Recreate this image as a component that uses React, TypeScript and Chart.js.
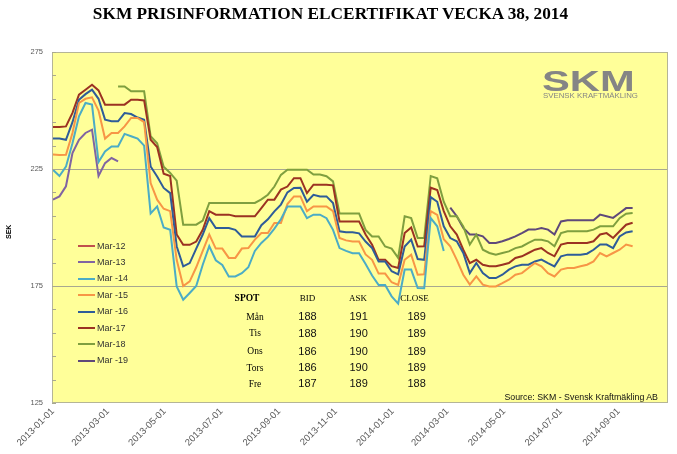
import React, { useEffect, useRef } from 'react';
import { Chart, registerables } from 'chart.js';

Chart.register(...registerables);

// ---------- DATA ----------
const TITLE = 'SKM PRISINFORMATION ELCERTIFIKAT VECKA 38, 2014';
const FIRST_DATE = '2013-01-01';
const WEEK_STEP = 7; // prices sampled weekly (days between samples)

const X_TICKS = ['2013-01-01', '2013-03-01', '2013-05-01', '2013-07-01', '2013-09-01', '2013-11-01', '2014-01-01', '2014-03-01', '2014-05-01', '2014-07-01', '2014-09-01'];
const Y_TICKS = [125, 175, 225, 275];
const Y_GRID = [175, 225];

const SERIES_NAMES = ['Mar-12', 'Mar-13', 'Mar -14', 'Mar -15', 'Mar -16', 'Mar-17', 'Mar-18', 'Mar -19'];
// first weekly sample index of each series
const SERIES_START = [0, 0, 0, 0, 0, 0, 10, 61];

const MAR12: number[] = [];
const MAR13 = [211.9, 213.3, 217.6, 231.8, 237.5, 240.4, 241.8, 222, 227.5, 229.7, 228.3];
const MAR14 = [
  224.7, 222, 226, 236, 247.5, 253.2, 252.5, 228, 232.5, 234.6,
  234.6, 240, 239, 238, 235, 206, 209, 200, 199, 174.8,
  169.1, 172, 175, 184.1, 192, 186, 184, 179.1, 179.1, 180.5,
  183, 190, 193.4, 196, 199.5, 203.5, 209, 209, 209, 204,
  205.5, 205.5, 204, 199, 191.2, 190, 189, 189, 184.4, 179.5,
  175.4, 175.4, 170.6, 167.5, 182, 182, 174.1, 174, 204, 200.5,
  190,
];
const MAR15 = [
  231.2, 231, 231.1, 240.4, 253.2, 255, 255.6, 250, 238, 240.4,
  240.4, 243.2, 246.8, 246.8, 245, 219, 211.9, 208, 207, 186.2,
  175, 177, 183, 190, 197, 191, 191, 187, 187, 191,
  191.2, 194.8, 197.6, 197.6, 201.9, 201.9, 210, 213.3, 213.3, 207,
  209, 209, 209, 207, 195.5, 194.5, 194, 194, 188.5, 186.2,
  180.3, 180.3, 176.6, 175.5, 186.2, 188.4, 179.8, 180, 207, 205.4,
  195, 192, 186.2, 179.8, 175.6, 179.1, 175.6, 174.8, 174.8, 176.2,
  177.7, 179.8, 180.5, 182.7, 184.8, 183.4, 180.5, 179.1, 182, 182.7,
  182.7, 183.4, 184.1, 185.5, 189.1, 187.7, 189.1, 190.5, 192.7, 192,
];
const MAR16 = [
  238, 238, 237.5, 245, 254.6, 257, 258.9, 255, 246.1, 245.4,
  245.4, 248.9, 248.5, 247, 246, 226.1, 221.8, 216.9, 214.7, 192,
  183.4, 184.8, 191, 197, 204, 199.8, 199.8, 199.8, 199, 196.2,
  196.2, 196.2, 201, 203.5, 206.9, 209.8, 215, 216.9, 217, 211,
  214, 213.3, 213.3, 210.5, 198.4, 198, 198, 197.5, 194, 191.2,
  185.5, 185.5, 181.3, 180, 191.9, 194.8, 186.5, 186.2, 213, 211,
  200.5, 195.5, 194.1, 189.1, 180.5, 184.8, 180.5, 178.4, 178.4, 179.8,
  182, 183.4, 184.1, 184.1, 185.5, 186.3, 184.8, 183.4, 187.7, 188.4,
  188.4, 188.4, 188.8, 190.5, 192.7, 192.7, 191.2, 196.2, 197.9, 198.4,
];
const MAR17 = [
  243, 243, 243.2, 249, 256.8, 258.9, 261, 258.6, 252.5, 252.5,
  252.5, 252.5, 254.6, 254.6, 254.3, 237.5, 234.4, 223, 222, 197,
  192.6, 192.6, 194, 199, 207, 205.5, 205.5, 205.5, 204.8, 204.8,
  204.8, 204.8, 208.3, 211.9, 211.9, 216.2, 217.5, 221.1, 221.1, 214.7,
  218.3, 218.3, 218.3, 218, 202.6, 202.6, 202.6, 202.6, 197, 192.6,
  186.2, 186.2, 183.5, 182.7, 197.6, 200, 191.9, 192, 217, 216,
  207, 200.5, 197, 190.5, 184.8, 186.2, 184.1, 183.4, 183.4, 184.1,
  184.8, 187, 187.7, 189.1, 190.5, 191.2, 189.1, 187.7, 192.7, 193.4,
  193.4, 193.4, 193.4, 194.1, 197, 197.6, 195.5, 198.4, 201.2, 202,
];
const MAR18 = [
  260.3, 260.3, 258.2, 258.2, 258.2, 239, 236, 226, 223.3, 220,
  201.2, 201.2, 201.2, 203, 210.5, 210.5, 210.5, 210.5, 210.5, 210.5,
  210.5, 210.5, 212, 214, 217.5, 222.5, 224.7, 224.7, 224.7, 224.7,
  222.6, 222.6, 221.9, 219.7, 206, 206, 206, 206, 199, 196.2,
  196.2, 191.9, 191, 187, 204.8, 204, 195.5, 195.5, 222, 221,
  211, 204.8, 204.8, 200.5, 192.7, 197, 190.5, 189.1, 188.4, 189.1,
  189.8, 191.2, 191.9, 193.4, 194.8, 194.8, 194.1, 192, 197.6, 198.4,
  198.4, 198.4, 198.4, 199.1, 200.5, 200.5, 200.5, 204, 205.9, 206.2,
];
const MAR19 = [
  208.5, 204.8, 199.8, 197, 197, 196.2, 193.4, 193.4, 194.1, 195.1,
  196.2, 197.6, 199.1, 199.1, 199.8, 199.1, 197, 202.6, 203.1, 203.1,
  203.1, 203.1, 203.1, 205.5, 204.8, 204.1, 206.2, 208.3, 208.3,
];
const SERIES_VALUES = [MAR12, MAR13, MAR14, MAR15, MAR16, MAR17, MAR18, MAR19];

const TABLE_HEAD = ['SPOT', 'BID', 'ASK', 'CLOSE'];
const TABLE_DAYS = ['Mån', 'Tis', 'Ons', 'Tors', 'Fre'];
const TABLE_BID = [188, 188, 186, 186, 187];
const TABLE_ASK = [191, 190, 190, 190, 189];
const TABLE_CLOSE = [189, 189, 189, 189, 188];

const SOURCE = 'Source: SKM - Svensk Kraftmäkling AB';
const Y_TITLE = 'SEK';

// ---------- STYLE ----------
const COLORS = ['#C0504D', '#8064A2', '#4BACC6', '#F79646', '#2E5C99', '#9B3222', '#7F9F3F', '#5F497A'];
const PLOT_BG = '#FFFF99';
const GRID_COLOR = '#A8A890';
const BORDER_COLOR = '#B5B596';

const DAY0 = Date.parse(FIRST_DATE + 'T00:00:00Z');
const dayOf = (iso: string) => (Date.parse(iso + 'T00:00:00Z') - DAY0) / 86400000;
const X_TICK_DAYS = X_TICKS.map(dayOf);

const plotPlugin = {
  id: 'plotDecor',
  beforeDraw(chart: any) {
    const { ctx, chartArea: a } = chart;
    ctx.save();
    ctx.fillStyle = PLOT_BG;
    ctx.fillRect(a.left, a.top, a.right - a.left, a.bottom - a.top);
    ctx.restore();
  },
  afterDraw(chart: any) {
    const { ctx, chartArea: a } = chart;
    const y = chart.scales.y;
    ctx.save();
    ctx.strokeStyle = BORDER_COLOR;
    ctx.lineWidth = 1;
    ctx.strokeRect(a.left + 0.5, a.top + 0.5, a.right - a.left - 1, a.bottom - a.top - 1);
    ctx.strokeStyle = GRID_COLOR;
    for (let v = 125; v <= 275; v += 10) {
      const py = Math.round(y.getPixelForValue(v)) + 0.5;
      ctx.beginPath();
      ctx.moveTo(a.left, py);
      ctx.lineTo(a.left + 4, py);
      ctx.stroke();
    }
    ctx.restore();
  },
};

const abs = (s: React.CSSProperties): React.CSSProperties => ({ position: 'absolute', whiteSpace: 'nowrap', ...s });

export default function App() {
  const ref = useRef<HTMLCanvasElement>(null);

  useEffect(() => {
    const canvas = ref.current;
    if (!canvas) return;
    const datasets = SERIES_NAMES.map((name, i) => ({
      label: name,
      data: SERIES_VALUES[i].map((v, j) => ({ x: (SERIES_START[i] + j) * WEEK_STEP, y: v })),
      borderColor: COLORS[i],
      backgroundColor: COLORS[i],
      borderWidth: 2,
      pointRadius: 0,
      tension: 0,
      fill: false,
    }));
    const chart = new Chart(canvas, {
      type: 'line',
      data: { datasets },
      options: {
        animation: false,
        responsive: false,
        maintainAspectRatio: false,
        layout: { padding: { top: 52, right: 9, left: 0, bottom: 0 } },
        plugins: { legend: { display: false }, tooltip: { enabled: false }, title: { display: false } },
        scales: {
          x: {
            type: 'linear',
            min: -1,
            max: 661,
            afterBuildTicks: (s: any) => { s.ticks = X_TICK_DAYS.map((v) => ({ value: v })); },
            afterFit: (s: any) => { s.height = 51; },
            ticks: {
              autoSkip: false,
              minRotation: 45,
              maxRotation: 45,
              padding: 3,
              color: '#595959',
              font: { family: '"Liberation Sans", Arial, sans-serif', size: 9.5 },
              callback: (_v: any, i: number) => X_TICKS[i],
            },
            grid: { display: false, drawTicks: false },
            border: { display: false },
          },
          y: {
            min: 125,
            max: 275,
            afterBuildTicks: (s: any) => { s.ticks = Y_TICKS.map((v) => ({ value: v })); },
            afterFit: (s: any) => { s.width = 52; },
            ticks: {
              padding: 9,
              color: '#595959',
              font: { family: '"Liberation Sans", Arial, sans-serif', size: 7.5 },
            },
            grid: {
              drawTicks: false,
              color: (c: any) => (Y_GRID.includes(c.tick?.value) ? GRID_COLOR : 'rgba(0,0,0,0)'),
            },
            border: { display: false },
          },
        },
      },
      plugins: [plotPlugin],
    } as any);
    return () => chart.destroy();
  }, []);

  const sans = '"Liberation Sans", Arial, sans-serif';
  const serif = '"Liberation Serif", "Times New Roman", serif';
  const headX = [247, 307.5, 358, 414.5];
  const rowY = [316.5, 333, 351, 367.5, 383.5];
  const valX = [307.5, 358.7, 416.7];
  const valCols = [TABLE_BID, TABLE_ASK, TABLE_CLOSE];

  return (
    <div style={{ position: 'fixed', left: 0, top: 0, width: 677, height: 454, background: '#fff', overflow: 'hidden' }}>
      <canvas ref={ref} width={677} height={454} style={{ position: 'absolute', left: 0, top: 0, width: 677, height: 454 }} />

      <div style={abs({ left: 0, top: 4.5, width: 661, textAlign: 'center', font: `bold 17.3px ${serif}`, lineHeight: '18px', color: '#000' })}>{TITLE}</div>

      <div style={abs({ left: 2, top: 231.5 - 4, width: 14, height: 8, font: `bold 7px ${sans}`, lineHeight: '8px', textAlign: 'center', transform: 'rotate(-90deg)', transformOrigin: '7px 4px', color: '#000' })}>{Y_TITLE}</div>

      {/* logo */}
      <div style={abs({ left: 542, top: 66, font: `bold 30px ${sans}`, lineHeight: '30px', color: '#858585', transform: 'scaleX(1.39)', transformOrigin: '0 0' })}>SKM</div>
      <div style={abs({ left: 543, top: 92, font: `7px ${sans}`, lineHeight: '7px', color: '#858585', transform: 'scaleX(1.12)', transformOrigin: '0 0' })}>SVENSK KRAFTMÄKLING</div>

      {/* legend */}
      {SERIES_NAMES.map((n, i) => {
        const cy = 246 + 16.4 * i;
        return (
          <React.Fragment key={n}>
            <div style={abs({ left: 78, top: cy - 1, width: 17, height: 2, background: COLORS[i] })} />
            <div style={abs({ left: 97, top: cy - 5.5, font: `9px ${sans}`, lineHeight: '11px', color: '#333' })}>{n}</div>
          </React.Fragment>
        );
      })}

      {/* table */}
      {TABLE_HEAD.map((h, i) => (
        <div key={h} style={abs({ left: headX[i] - 40, top: 299 - 6, width: 80, textAlign: 'center', font: `${i === 0 ? 'bold 9.5px' : '9px'} ${serif}`, lineHeight: '11px', color: '#000' })}>{h}</div>
      ))}
      {TABLE_DAYS.map((d, r) => (
        <React.Fragment key={d}>
          <div style={abs({ left: 255 - 40, top: rowY[r] - 6, width: 80, textAlign: 'center', font: `9.5px ${serif}`, lineHeight: '12px', color: '#000' })}>{d}</div>
          {valCols.map((col, c) => (
            <div key={c} style={abs({ left: valX[c] - 40, top: rowY[r] - 6.3, width: 80, textAlign: 'center', font: `11px ${sans}`, lineHeight: '13px', color: '#111' })}>{col[r]}</div>
          ))}
        </React.Fragment>
      ))}

      <div style={abs({ right: 677 - 658, top: 392, font: `8.8px ${sans}`, lineHeight: '11px', color: '#111' })}>{SOURCE}</div>
    </div>
  );
}
